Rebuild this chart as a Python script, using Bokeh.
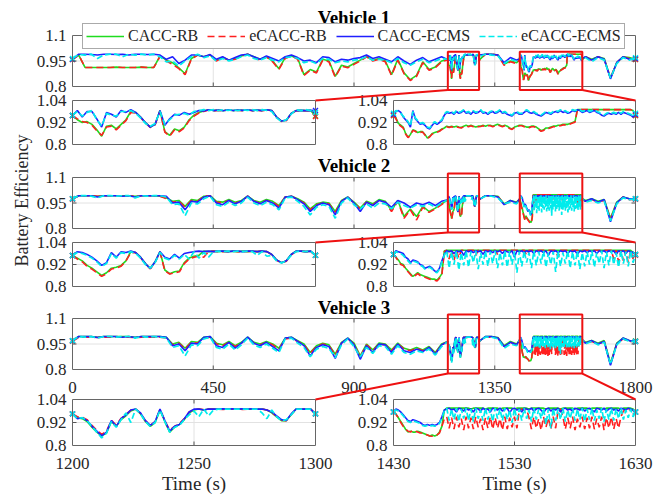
import numpy as np
from bokeh.plotting import figure
from bokeh.models import Range1d, Legend, LegendItem
from bokeh.core.properties import value
from bokeh.embed import file_html
from bokeh.resources import INLINE

W, H = 654, 497
FONT = "Liberation Serif"
INK = "#262626"

SERIES = ["CACC-RB", "eCACC-RB", "CACC-ECMS", "eCACC-ECMS"]
COLORS = ["#1fdc1f", "#ff1f1f", "#1f1fff", "#00ecec"]
DASHES = ["solid", "7 4", "solid", "6 3"]
WIDTHS = [1.6, 1.6, 1.6, 1.7]

# sampling grids (s): coarse outside the two zoom windows, fine inside them
T_OUT = list(range(0, 1200, 20)) + list(range(1320, 1430, 20)) + list(range(1640, 1801, 20))
T_A = list(range(1200, 1301, 2))
T_B = list(range(1430, 1631, 2))

MAIN_XTICKS = [0, 450, 900, 1350, 1800]
MAIN_YTICKS = [0.8, 0.95, 1.1]
MAIN_YLABELS = ["0.8", "0.95", "1.1"]
A_XTICKS = [1200, 1250, 1300]
B_XTICKS = [1430, 1530, 1630]
INS_YTICKS = [0.8, 0.92, 1.04]
INS_YLABELS = ["0.8", "0.92", "1.04"]
TITLES = ["Vehicle 1", "Vehicle 2", "Vehicle 3"]

# ---------------- Vehicle 1 ----------------
v1_rb_out = [.96, .985, .912, .912, .912, .912, .912, .914, .912, .912,
             .912, .914, .912, .912, .98, .955, .94, .91, .875, .965,
             .985, .975, .985, .955, .97, .955, .965, .98, .99, .975,
             .96, .975, .95, .905, .97, .98, .965, .87, .9, .885,
             .96, .95, .86, .925, .915, .935, .955, .975, .955, .965,
             .95, .87, .96, .88, .84, .865, .945, .9, .915, .95,
             .99, .99, .985, .93, .95, .94,
             .975, .96, .975, .965, .85, .94, .975, .97, .96]
v1_erb_out = [.958, .985, .912, .912, .912, .912, .912, .914, .912, .912,
              .912, .914, .912, .912, .978, .95, .93, .905, .87, .96,
              .985, .975, .985, .95, .97, .955, .96, .98, .99, .97,
              .955, .975, .945, .9, .965, .98, .96, .865, .895, .88,
              .955, .945, .855, .92, .91, .93, .95, .975, .95, .96,
              .945, .865, .955, .875, .835, .86, .94, .895, .91, .945,
              .99, .99, .985, .925, .945, .935,
              .975, .955, .975, .96, .85, .94, .975, .965, .958]
v1_ecms_out = [.96, .99, .99, .988, .985, .99, .99, .988, .99, .985,
               .99, .99, .988, .99, .985, .96, .975, .935, .955, .985,
               .985, .975, .988, .96, .975, .955, .97, .985, .99, .975,
               .96, .98, .965, .95, .975, .985, .97, .95, .955, .94,
               .975, .97, .945, .96, .955, .965, .97, .985, .965, .975,
               .96, .945, .975, .95, .93, .955, .97, .945, .96, .975,
               .99, .99, .985, .94, .97, .955,
               .975, .955, .975, .96, .845, .94, .975, .96, .965]
v1_eecms_out = [.965, .988, .985, .99, .965, .985, .99, .99, .975, .99,
                .985, .99, .985, .99, .975, .945, .95, .92, .95, .975,
                .99, .97, .98, .95, .965, .95, .96, .975, .985, .965,
                .955, .97, .955, .945, .97, .975, .965, .94, .95, .935,
                .965, .96, .94, .95, .945, .955, .96, .975, .955, .96,
                .955, .94, .965, .94, .925, .945, .96, .94, .95, .965,
                .99, .985, .98, .935, .96, .95,
                .97, .945, .97, .955, .85, .935, .97, .955, .97]

v1_rb_a = [.958, .935, .92, .925, .91, .88, .845, .9, .905, .885,
           .91, .935, .98, .975, .95, .92, .895, .91, .985, .87,
           .85, .885, .875, .895, .935, .96, .975, .983, .99, .985,
           .988, .984, .99, .985, .988, .986, .99, .985, .988, .985,
           .99, .985, .95, .928, .932, .97, .985, .986, .985, .986,
           .955]
v1_erb_a = [.958, .94, .925, .92, .905, .875, .85, .895, .9, .88,
            .905, .93, .975, .972, .948, .918, .893, .908, .982, .868,
            .845, .88, .87, .89, .93, .955, .972, .98, .988, .984,
            .986, .984, .988, .985, .986, .985, .988, .984, .986, .984,
            .988, .984, .948, .926, .93, .968, .984, .985, .984, .985,
            .952]
v1_ecms_a = [.958, .985, .95, .98, .98, .94, .895, .975, .965, .95,
             .985, .975, .99, .975, .95, .92, .895, .91, .985, .905,
             .94, .965, .96, .975, .965, .975, .985, .983, .99, .985,
             .988, .984, .99, .985, .988, .986, .99, .985, .988, .985,
             .99, .985, .95, .928, .932, .97, .985, .986, .985, .986,
             .985]
v1_eecms_a = [.96, .98, .955, .975, .985, .935, .9, .97, .96, .955,
              .98, .98, .985, .97, .945, .915, .9, .915, .98, .91,
              .935, .96, .965, .97, .96, .98, .985, .99, .985, .99,
              .985, .99, .986, .99, .985, .99, .986, .99, .985, .99,
              .986, .98, .945, .925, .935, .965, .99, .985, .99, .985,
              .975]

v1_rb_b = [.958, .945, .915, .905, .895, .86, .84, .855, .88, .875,
           .865, .87, .87, .855, .835, .845, .86, .865, .87, .875,
           .885, .89, .9, .895, .9, .895, .9, .895, .893, .9,
           .905, .9, .905, .9, .895, .9, .9, .905, .9, .905,
           .905, .9, .905, .91, .905, .9, .905, .9, .89, .885,
           .895, .9, .905, .905, .9, .895, .895, .9, .9, .895,
           .885, .875, .88, .89, .89, .895, .9, .9, .905, .905,
           .91, .91, .91, .915, .92, .925, .99, .99, .99, .99,
           .99, .99, .99, .99, .99, .99, .99, .99, .99, .99,
           .99, .99, .99, .99, .99, .99, .99, .99, .99, .985,
           .958]
v1_erb_b = [.958, .94, .912, .9, .89, .857, .838, .85, .877, .872,
            .862, .866, .868, .852, .833, .842, .857, .862, .867, .872,
            .882, .887, .897, .893, .897, .892, .897, .893, .89, .897,
            .902, .897, .902, .897, .892, .897, .898, .902, .897, .902,
            .902, .897, .902, .907, .902, .897, .902, .897, .887, .882,
            .892, .897, .902, .902, .897, .892, .892, .897, .897, .892,
            .882, .872, .877, .887, .887, .892, .897, .897, .902, .902,
            .907, .907, .907, .912, .917, .922, .99, .99, .99, .99,
            .99, .99, .99, .99, .99, .99, .99, .99, .99, .99,
            .99, .99, .99, .99, .99, .99, .99, .99, .99, .985,
            .958]
v1_ecms_b = [.965, .98, .985, .975, .95, .935, .92, .895, .985, .94,
             .925, .91, .915, .905, .89, .885, .905, .92, .91, .92,
             .93, .96, .975, .97, .975, .965, .98, .97, .975, .985,
             .97, .975, .965, .98, .97, .975, .985, .97, .975, .965,
             .975, .98, .97, .975, .985, .97, .975, .965, .96, .955,
             .97, .975, .965, .965, .975, .985, .975, .97, .975, .965,
             .96, .955, .965, .975, .97, .965, .975, .98, .975, .985,
             .975, .98, .97, .975, .985, .98, .99, .985, .975, .98,
             .985, .975, .98, .985, .975, .97, .96, .955, .965, .97,
             .965, .97, .965, .975, .965, .975, .97, .965, .96, .95,
             .965]
v1_eecms_b = [.97, .985, .98, .97, .955, .94, .925, .9, .98, .945,
              .93, .915, .92, .91, .895, .89, .91, .925, .915, .925,
              .935, .965, .98, .975, .98, .97, .985, .975, .98, .99,
              .975, .98, .97, .985, .975, .98, .99, .975, .98, .97,
              .98, .985, .975, .98, .99, .975, .98, .97, .965, .96,
              .975, .98, .97, .97, .98, .99, .98, .975, .98, .97,
              .965, .96, .97, .98, .975, .97, .98, .985, .98, .99,
              .98, .985, .975, .98, .99, .985, .99, .99, .98, .985,
              .99, .98, .985, .99, .98, .975, .965, .96, .97, .975,
              .97, .975, .97, .98, .97, .98, .975, .97, .965, .955,
              .97]

# ---------------- Vehicle 2 ----------------
v2_rb_out = [.975, .993, .993, .993, .99, .993, .993, .993, .993, .993,
             .99, .993, .993, .993, .99, .98, .96, .965, .93, .97,
             .965, .99, .993, .96, .955, .97, .955, .965, .99, .965,
             .955, .97, .96, .935, .985, .99, .975, .955, .915, .945,
             .955, .95, .9, .965, .985, .955, .92, .96, .945, .97,
             .96, .905, .965, .87, .915, .87, .93, .9, .92, .945,
             .993, .993, .99, .945, .965, .955,
             .965, .975, .96, .97, .86, .955, .985, .975, .975]
v2_erb_out = [.972, .993, .993, .993, .99, .993, .993, .993, .993, .993,
              .99, .993, .993, .993, .99, .975, .955, .96, .925, .965,
              .96, .99, .993, .955, .95, .965, .95, .96, .99, .96,
              .95, .965, .955, .93, .985, .99, .97, .95, .91, .94,
              .95, .945, .895, .96, .985, .95, .915, .955, .94, .965,
              .955, .9, .96, .86, .91, .85, .925, .895, .915, .94,
              .993, .993, .99, .94, .96, .95,
              .96, .97, .955, .965, .855, .95, .985, .97, .972]
v2_ecms_out = [.975, .993, .993, .993, .985, .993, .993, .993, .99, .993,
               .985, .993, .993, .993, .993, .99, .95, .955, .91, .96,
               .955, .985, .993, .95, .94, .965, .945, .96, .99, .96,
               .945, .965, .95, .92, .985, .99, .97, .945, .9, .935,
               .95, .94, .88, .96, .985, .95, .9, .955, .935, .965,
               .955, .925, .965, .95, .925, .95, .94, .955, .935, .96,
               .993, .993, .985, .94, .965, .95,
               .96, .975, .955, .97, .84, .95, .985, .975, .975]
v2_eecms_out = [.975, .993, .993, .99, .98, .993, .993, .99, .993, .993,
                .98, .993, .99, .993, .993, .985, .94, .945, .875, .95,
                .945, .975, .99, .94, .93, .955, .935, .95, .985, .95,
                .935, .955, .94, .91, .98, .985, .96, .93, .88, .925,
                .94, .93, .86, .95, .98, .94, .915, .945, .92, .95,
                .945, .915, .955, .935, .92, .94, .93, .945, .925, .95,
                .99, .99, .98, .945, .955, .945,
                .955, .965, .95, .96, .845, .945, .98, .97, .975]

v2_rb_a = [.969, .955, .94, .915, .9, .88, .86, .875, .9, .905,
           .915, .94, .99, .985, .96, .925, .898, .935, .99, .89,
           .87, .88, .885, .93, .955, .965, .97, .993, .99, .993,
           .99, .993, .99, .993, .99, .993, .99, .993, .99, .993,
           .99, .975, .945, .93, .94, .975, .993, .993, .99, .993,
           .97]
v2_erb_a = [.969, .95, .935, .91, .895, .875, .855, .87, .895, .9,
            .91, .94, .985, .985, .958, .923, .896, .932, .988, .885,
            .868, .875, .88, .925, .95, .96, .965, .96, .99, .993,
            .99, .99, .99, .993, .99, .99, .993, .99, .99, .993,
            .99, .973, .943, .928, .938, .972, .99, .993, .99, .99,
            .97]
v2_ecms_a = [.969, .99, .985, .975, .96, .94, .915, .93, .985, .96,
             .99, .985, .993, .985, .96, .925, .898, .935, .99, .96,
             .95, .975, .955, .98, .985, .99, .993, .99, .993, .99,
             .993, .993, .99, .993, .993, .99, .993, .993, .99, .993,
             .99, .975, .945, .93, .94, .975, .993, .993, .99, .993,
             .97]
v2_eecms_a = [.969, .985, .98, .97, .955, .935, .91, .925, .98, .955,
              .985, .98, .99, .98, .955, .92, .9, .93, .985, .955,
              .945, .97, .95, .975, .95, .99, .955, .985, .96, .99,
              .993, .99, .993, .99, .993, .99, .993, .99, .97, .99,
              .965, .97, .94, .928, .94, .97, .99, .993, .99, .993,
              .97]

v2_rb_b = [.975, .96, .945, .925, .92, .9, .885, .87, .855, .865,
           .875, .865, .86, .855, .85, .845, .84, .84, .835, .85,
           .87, .995, .998, .998, .997, .998, .998, .997, .998, .998,
           .998, .997, .998, .998, .998, .997, .998, .998, .997, .998,
           .998, .998, .997, .998, .998, .998, .997, .998, .998, .997,
           .998, .998, .998, .997, .998, .998, .997, .998, .998, .998,
           .997, .998, .998, .998, .997, .998, .998, .997, .998, .998,
           .998, .997, .998, .998, .998, .997, .998, .998, .997, .998,
           .998, .998, .997, .998, .998, .998, .997, .998, .998, .997,
           .998, .998, .998, .997, .998, .998, .997, .998, .998, .985,
           .975]
v2_erb_b = [.975, .958, .94, .92, .915, .895, .88, .865, .85, .86,
            .87, .86, .855, .85, .845, .84, .835, .835, .83, .845,
            .865, .99, .998, .95, .998, .94, .998, .955, .998, .998,
            .995, .998, .998, .998, .97, .998, .998, .998, .998, .998,
            .998, .998, .998, .975, .998, .998, .998, .998, .998, .998,
            .998, .998, .998, .998, .998, .97, .998, .998, .998, .998,
            .998, .998, .998, .998, .998, .998, .998, .998, .96, .998,
            .998, .998, .998, .998, .998, .998, .998, .998, .998, .998,
            .998, .998, .998, .998, .998, .998, .998, .998, .998, .998,
            .998, .95, .998, .935, .998, .94, .998, .93, .998, .95,
            .97]
v2_ecms_b = [.975, .995, .99, .985, .98, .96, .95, .93, .945, .94,
             .935, .92, .915, .9, .905, .91, .9, .885, .88, .9,
             .94, .975, .995, .99, .995, .98, .995, .99, .995, .97,
             .995, .99, .995, .985, .995, .99, .995, .975, .995, .99,
             .995, .985, .995, .99, .995, .98, .995, .99, .985, .995,
             .96, .995, .99, .995, .985, .995, .99, .995, .98, .995,
             .99, .995, .985, .995, .97, .995, .99, .995, .985, .995,
             .99, .995, .98, .995, .99, .995, .975, .995, .99, .995,
             .985, .995, .99, .995, .98, .995, .99, .995, .985, .995,
             .99, .995, .975, .995, .99, .995, .98, .995, .99, .985,
             .975]
v2_eecms_b = [.975, .99, .985, .98, .97, .955, .94, .925, .94, .935,
              .93, .915, .91, .895, .9, .905, .895, .88, .875, .895,
              .935, .97, .995, .9, .99, .92, .995, .89, .985, .915,
              .995, .905, .99, .93, .995, .895, .985, .92, .995, .91,
              .99, .925, .995, .9, .985, .915, .995, .905, .99, .92,
              .995, .875, .99, .91, .995, .93, .985, .9, .995, .915,
              .99, .925, .995, .905, .985, .92, .99, .88, .995, .91,
              .985, .925, .995, .9, .99, .915, .995, .895, .985, .91,
              .99, .92, .995, .905, .985, .925, .995, .9, .99, .915,
              .995, .92, .985, .905, .995, .925, .99, .91, .995, .93,
              .975]

# ---------------- Vehicle 3 ----------------
v3_rb_out = [.969, .994, .994, .994, .99, .994, .994, .994, .994, .994,
             .99, .994, .994, .994, .994, .99, .95, .96, .925, .965,
             .96, .99, .994, .955, .945, .965, .94, .96, .99, .96,
             .95, .965, .95, .925, .985, .99, .97, .95, .9, .94,
             .955, .945, .89, .96, .985, .955, .88, .95, .915, .955,
             .95, .915, .955, .925, .915, .93, .915, .935, .9, .95,
             .994, .994, .988, .94, .965, .95,
             .96, .97, .955, .97, .835, .955, .985, .97, .968]
v3_erb_out = [.966, .99, .99, .99, .988, .99, .99, .99, .99, .99,
              .988, .99, .99, .99, .99, .985, .945, .955, .92, .96,
              .955, .985, .99, .95, .94, .96, .935, .955, .985, .955,
              .945, .96, .945, .92, .98, .985, .965, .945, .895, .935,
              .95, .94, .885, .955, .98, .95, .875, .945, .91, .95,
              .945, .91, .95, .92, .91, .925, .91, .93, .895, .945,
              .99, .99, .985, .935, .96, .945,
              .955, .965, .95, .965, .83, .95, .98, .965, .965]
v3_ecms_out = [.969, .994, .994, .994, .988, .994, .994, .994, .99, .994,
               .988, .994, .994, .994, .994, .99, .94, .95, .91, .955,
               .95, .99, .994, .94, .93, .96, .925, .955, .99, .955,
               .94, .96, .935, .91, .985, .99, .965, .94, .88, .93,
               .945, .935, .865, .955, .985, .945, .86, .94, .9, .95,
               .945, .9, .95, .91, .9, .92, .905, .93, .89, .945,
               .994, .994, .985, .935, .96, .945,
               .955, .97, .95, .965, .825, .95, .985, .97, .965]
v3_eecms_out = [.969, .994, .99, .994, .985, .994, .994, .99, .994, .994,
                .985, .994, .99, .994, .99, .985, .93, .94, .88, .945,
                .94, .98, .99, .93, .92, .95, .915, .945, .985, .945,
                .93, .95, .925, .9, .98, .985, .955, .93, .875, .92,
                .935, .925, .87, .945, .98, .935, .875, .93, .895, .94,
                .935, .89, .94, .9, .89, .91, .9, .92, .885, .935,
                .99, .99, .98, .925, .95, .94,
                .95, .965, .945, .96, .83, .945, .98, .965, .965]

v3_rb_a = [.965, .945, .94, .925, .895, .87, .85, .865, .925, .9,
           .935, .955, .98, .99, .965, .925, .9, .92, .985, .925,
           .87, .895, .91, .935, .97, .985, .99, .985, .99, .99,
           .99, .99, .99, .99, .99, .99, .99, .99, .99, .99,
           .985, .97, .95, .93, .93, .96, .99, .99, .99, .99,
           .965]
v3_erb_a = [.965, .95, .948, .935, .905, .88, .858, .875, .932, .905,
            .942, .962, .985, .99, .968, .93, .905, .925, .988, .93,
            .88, .9, .915, .94, .975, .988, .99, .988, .99, .99,
            .99, .988, .99, .99, .99, .988, .99, .99, .99, .99,
            .985, .972, .952, .932, .93, .962, .99, .99, .99, .99,
            .965]
v3_ecms_a = [.965, .94, .945, .93, .9, .875, .85, .87, .93, .9,
             .94, .96, .985, .99, .97, .93, .905, .925, .99, .93,
             .875, .9, .91, .94, .975, .99, .99, .985, .99, .99,
             .99, .992, .99, .992, .99, .992, .99, .992, .99, .99,
             .985, .975, .955, .935, .93, .965, .99, .99, .99, .99,
             .965]
v3_eecms_a = [.965, .94, .945, .93, .9, .87, .84, .865, .925, .895,
              .935, .97, .92, .99, .965, .925, .9, .92, .985, .925,
              .87, .895, .905, .935, .96, .98, .95, .99, .955, .985,
              .99, .99, .99, .99, .99, .99, .99, .99, .99, .97,
              .94, .985, .95, .93, .935, .96, .99, .99, .99, .99,
              .965]

v3_rb_b = [.975, .965, .945, .925, .905, .885, .87, .875, .87, .87,
           .875, .87, .865, .86, .855, .85, .855, .85, .855, .87,
           .9, .985, .995, .995, .995, .995, .995, .995, .995, .995,
           .995, .995, .99, .995, .995, .995, .995, .995, .99, .995,
           .995, .995, .995, .995, .99, .995, .995, .995, .995, .995,
           .99, .995, .995, .995, .995, .995, .99, .995, .995, .995,
           .995, .995, .995, .99, .995, .995, .995, .995, .995, .99,
           .995, .995, .995, .995, .995, .99, .995, .995, .995, .995,
           .995, .99, .995, .995, .995, .995, .995, .99, .995, .995,
           .995, .995, .995, .995, .99, .995, .995, .995, .995, .99,
           .975]
v3_erb_b = [.975, .962, .945, .92, .9, .885, .875, .87, .88, .875,
            .87, .865, .865, .86, .855, .85, .848, .85, .855, .865,
            .9, .94, .95, .89, .945, .885, .95, .895, .94, .88,
            .95, .89, .945, .885, .95, .895, .94, .88, .945, .89,
            .95, .885, .945, .89, .94, .88, .95, .885, .945, .895,
            .95, .89, .985, .99, .985, .99, .945, .885, .95, .89,
            .94, .88, .95, .895, .945, .885, .95, .89, .985, .99,
            .95, .885, .945, .89, .95, .88, .94, .895, .95, .885,
            .945, .89, .95, .885, .94, .895, .95, .88, .945, .89,
            .95, .885, .94, .89, .95, .98, .985, .99, .985, .985,
            .975]
v3_ecms_b = [.975, .99, .985, .975, .96, .945, .93, .925, .935, .93,
             .925, .92, .91, .905, .91, .905, .91, .905, .91, .92,
             .95, .985, .99, .995, .985, .99, .975, .995, .99, .98,
             .995, .985, .99, .975, .995, .99, .98, .995, .985, .99,
             .975, .995, .99, .985, .995, .98, .99, .995, .97, .99,
             .995, .985, .99, .975, .995, .99, .985, .995, .98, .99,
             .995, .985, .97, .99, .995, .98, .99, .985, .995, .975,
             .99, .995, .985, .99, .98, .995, .99, .985, .995, .98,
             .99, .995, .985, .975, .995, .99, .985, .995, .98, .99,
             .995, .985, .99, .98, .995, .99, .985, .995, .99, .985,
             .975]
v3_eecms_b = [.975, .985, .98, .97, .955, .94, .925, .92, .93, .925,
              .92, .915, .905, .9, .905, .9, .905, .9, .905, .915,
              .945, .98, .995, .93, .99, .935, .995, .925, .99, .94,
              .995, .93, .99, .925, .995, .94, .985, .93, .995, .935,
              .99, .925, .995, .94, .99, .93, .995, .935, .985, .92,
              .995, .935, .99, .93, .995, .94, .985, .925, .995, .935,
              .99, .94, .995, .91, .99, .89, .995, .93, .99, .935,
              .995, .925, .985, .94, .995, .93, .99, .935, .995, .925,
              .99, .935, .995, .93, .985, .94, .995, .925, .99, .935,
              .995, .93, .99, .94, .995, .935, .985, .945, .99, .95,
              .975]

VEHICLES = [
    ([v1_rb_out, v1_erb_out, v1_ecms_out, v1_eecms_out],
     [v1_rb_a, v1_erb_a, v1_ecms_a, v1_eecms_a],
     [v1_rb_b, v1_erb_b, v1_ecms_b, v1_eecms_b]),
    ([v2_rb_out, v2_erb_out, v2_ecms_out, v2_eecms_out],
     [v2_rb_a, v2_erb_a, v2_ecms_a, v2_eecms_a],
     [v2_rb_b, v2_erb_b, v2_ecms_b, v2_eecms_b]),
    ([v3_rb_out, v3_erb_out, v3_ecms_out, v3_eecms_out],
     [v3_rb_a, v3_erb_a, v3_ecms_a, v3_eecms_a],
     [v3_rb_b, v3_erb_b, v3_ecms_b, v3_eecms_b]),
]

# ---------------- layout (canvas pixels, top-left origin) ----------------
COL_MAIN = (72, 635)
COL_A = (72, 315)
COL_B = (393, 635)
ROW_MAIN = [(35, 86), (177, 228), (318, 369)]
ROW_INS = [(100, 144), (242, 286), (399, 445)]
TITLE_MID = [17, 165, 307]
BOX_Y = [(0.78, 1.005), (0.776, 1.124), (0.776, 1.124)]
RED = "#ee1111"

p = figure(width=W, height=H, x_range=Range1d(0, W), y_range=Range1d(H, 0),
           output_backend="svg", toolbar_location=None, min_border=0,
           x_axis_location=None, y_axis_location=None)
p.outline_line_color = None
p.background_fill_color = "white"
p.border_fill_color = "white"
p.grid.visible = False

LAYOUT = {}


def panel(name, xlim, ylim, cols, rows):
    (x0, x1), (y0, y1), (c0, c1), (r0, r1) = xlim, ylim, cols, rows
    kx = (x1 - x0) / (c1 - c0)
    sx = x0 - c0 * kx
    p.extra_x_ranges[name] = Range1d(sx, sx + W * kx)
    ky = (y1 - y0) / (r1 - r0)
    p.extra_y_ranges[name] = Range1d(y1 - (H - r0) * ky, y1 + r0 * ky)
    LAYOUT[name] = (x0, x1, y0, y1, c0, c1, r0, r1)


def to_px(name, x, y):
    x0, x1, y0, y1, c0, c1, r0, r1 = LAYOUT[name]
    return (c0 + (x - x0) / (x1 - x0) * (c1 - c0),
            r1 - (y - y0) / (y1 - y0) * (r1 - r0))


def rk(name):
    return dict(x_range_name=name, y_range_name=name)


def grid(name, xticks, yticks):
    x0, x1, y0, y1, c0, c1, r0, r1 = LAYOUT[name]
    gx = [t for t in xticks if x0 < t < x1]
    gy = [v for v in yticks if y0 < v < y1]
    p.segment(x0=gx, y0=[y0] * len(gx), x1=gx, y1=[y1] * len(gx),
              line_color="#e2e2e2", line_width=1, level="underlay", **rk(name))
    p.segment(x0=[x0] * len(gy), y0=gy, x1=[x1] * len(gy), y1=gy,
              line_color="#e2e2e2", line_width=1, level="underlay", **rk(name))
    return gx, gy


def axes_frame(name, gx, gy, yticks, ylabels, xticks, xlabels):
    x0, x1, y0, y1, c0, c1, r0, r1 = LAYOUT[name]
    ty = 4 * (y1 - y0) / (r1 - r0)
    tx = 4 * (x1 - x0) / (c1 - c0)
    p.segment(x0=gx + gx, y0=[y0] * len(gx) + [y1] * len(gx),
              x1=gx + gx, y1=[y0 + ty] * len(gx) + [y1 - ty] * len(gx),
              line_color="#555555", line_width=1, **rk(name))
    p.segment(x0=[x0] * len(gy) + [x1] * len(gy), y0=gy + gy,
              x1=[x0 + tx] * len(gy) + [x1 - tx] * len(gy), y1=gy + gy,
              line_color="#555555", line_width=1, **rk(name))
    p.quad(left=[x0], right=[x1], bottom=[y0], top=[y1], fill_color=None,
           line_color="#666666", line_width=1, **rk(name))
    p.text(x=[x0] * len(yticks), y=yticks, text=ylabels, x_offset=-6,
           text_align="right", text_baseline="middle", text_font=value(FONT),
           text_font_size="17px", text_color=INK, **rk(name))
    if xlabels:
        p.text(x=xticks, y=[y0] * len(xticks), text=xlabels, y_offset=18,
               text_align="center", text_baseline="middle", text_font=value(FONT),
               text_font_size="17px", text_color=INK, **rk(name))


def draw_series(name, t, ys):
    rs = []
    for y, c, d, w in zip(ys, COLORS, DASHES, WIDTHS):
        rs.append(p.line(t, y, line_color=c, line_width=w, line_dash=d, **rk(name)))
        p.scatter([t[0], t[-1]], [y[0], y[-1]], marker="x", size=7,
                  line_color=c, line_width=1.4, **rk(name))
    return rs


connectors = ([], [], [], [])
legend_renderers = None

for k, (out, ins_a, ins_b) in enumerate(VEHICLES):
    last = k == 2
    m, a, b = f"m{k}", f"a{k}", f"b{k}"
    panel(m, (0, 1800), (0.8, 1.1), COL_MAIN, ROW_MAIN[k])
    panel(a, (T_A[0], T_A[-1]), (0.8, 1.04), COL_A, ROW_INS[k])
    panel(b, (T_B[0], T_B[-1]), (0.8, 1.04), COL_B, ROW_INS[k])

    # full-length run: coarse samples outside the windows plus the window samples
    t_main = T_OUT[:60] + T_A + T_OUT[60:66] + T_B + T_OUT[66:]
    y_main = [o[:60] + sa + o[60:66] + sb + o[66:] for o, sa, sb in zip(out, ins_a, ins_b)]

    gx, gy = grid(m, MAIN_XTICKS, MAIN_YTICKS)
    rs = draw_series(m, t_main, y_main)
    if k == 0:
        legend_renderers = rs
    axes_frame(m, gx, gy, MAIN_YTICKS, MAIN_YLABELS, MAIN_XTICKS,
               [str(t) for t in MAIN_XTICKS] if last else None)

    gx, gy = grid(a, A_XTICKS, INS_YTICKS)
    draw_series(a, T_A, ins_a)
    axes_frame(a, gx, gy, INS_YTICKS, INS_YLABELS, A_XTICKS,
               [str(t) for t in A_XTICKS] if last else None)

    gx, gy = grid(b, B_XTICKS, INS_YTICKS)
    draw_series(b, T_B, ins_b)
    axes_frame(b, gx, gy, INS_YTICKS, INS_YLABELS, B_XTICKS,
               [str(t) for t in B_XTICKS] if last else None)

    lo, hi = BOX_Y[k]
    p.quad(left=[T_A[0], T_B[0]], right=[T_A[-1], T_B[-1]], bottom=[lo, lo], top=[hi, hi],
           fill_color=None, line_color=RED, line_width=2, **rk(m))
    for (sx, sy), (ex, ey) in [(to_px(m, T_A[0], lo), to_px(a, T_A[-1], INS_YTICKS[-1])),
                               (to_px(m, T_B[-1], lo), to_px(b, T_B[-1], INS_YTICKS[-1]))]:
        connectors[0].append(sx)
        connectors[1].append(sy)
        connectors[2].append(ex)
        connectors[3].append(ey)

    cx = (COL_MAIN[0] + COL_MAIN[1]) / 2
    p.text(x=[cx], y=[TITLE_MID[k]], text=[TITLES[k]], text_align="center",
           text_baseline="middle", text_font=value(FONT), text_font_size="19px",
           text_font_style="bold", text_color="black")

p.segment(x0=connectors[0], y0=connectors[1], x1=connectors[2], y1=connectors[3],
          line_color=RED, line_width=2)

for c0, c1 in (COL_A, COL_B):
    p.text(x=[(c0 + c1) / 2], y=[483], text=["Time (s)"], text_align="center",
           text_baseline="middle", text_font=value(FONT), text_font_size="19px",
           text_color=INK)

p.text(x=[21], y=[200], text=["Battery Efficiency"], angle=np.pi / 2,
       text_align="center", text_baseline="middle", text_font=value(FONT),
       text_font_size="18px", text_color=INK)

legend = Legend(items=[LegendItem(label=s, renderers=[r]) for s, r in zip(SERIES, legend_renderers)],
                orientation="horizontal", location=(82, H - 49), margin=0, padding=3,
                spacing=9, glyph_width=38, glyph_height=16, label_height=16, label_standoff=4,
                label_text_font=FONT, label_text_font_size="16px", label_text_color=INK,
                border_line_color="#555555", border_line_width=1,
                background_fill_color="white", background_fill_alpha=1.0)
p.add_layout(legend)

open("out.html", "w").write(file_html(p, INLINE))
